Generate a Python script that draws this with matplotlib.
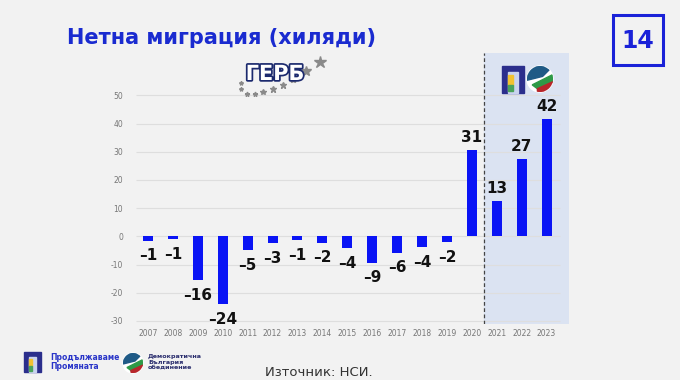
import matplotlib.pyplot as plt
import matplotlib.patches as mpatches
import matplotlib.transforms as mtransforms
import matplotlib.patheffects as pe
import numpy as np

plt.rcParams['axes.unicode_minus'] = False

years = ['2007', '2008', '2009', '2010', '2011', '2012', '2013', '2014', '2015',
         '2016', '2017', '2018', '2019', '2020', '2021', '2022', '2023']
values = [-1.5, -1.0, -15.5, -24.1, -5.0, -2.5, -1.2, -2.2, -4.3,
          -9.3, -5.8, -3.8, -2.0, 30.6, 12.6, 27.3, 41.5]
labels = ['–1', '–1', '–16', '–24', '–5', '–3', '–1', '–2', '–4',
          '–9', '–6', '–4', '–2', '31', '13', '27', '42']
yticks = [-30, -20, -10, 0, 10, 20, 30, 40, 50]

BLUE = '#0a14f5'
TITLE_BLUE = '#1a2bd0'
BG = '#f2f2f2'

fig = plt.figure(figsize=(6.8, 3.8), dpi=100, facecolor=BG)
# pixel coordinates, origin top-left
px = mtransforms.Affine2D().scale(1 / 100, -1 / 100).translate(0, 3.8) + fig.dpi_scale_trans

ax = fig.add_axes([135.5 / 680, 1 - 323.8 / 380, 433.5 / 680, (323.8 - 53) / 380])
ax.set_facecolor(BG)
x = np.arange(len(years))
ax.set_xlim(-0.5, 16.9)
ax.set_ylim(-31, 65)

ax.axvspan(13.5, 16.9, color='#dbe3f2', zorder=0)
ax.axvline(13.5, color='#444444', lw=0.9, ls=(0, (3, 2)), zorder=1)
ax.hlines(yticks, -0.5, 16.55, color='#dedede', lw=0.8, zorder=0.5)

ax.bar(x, values, width=0.4, color=BLUE, zorder=2)
for xi, v, lab in zip(x, values, labels):
    off = 9 if v > 0 else -11
    ax.annotate(lab, (xi, v), xytext=(0, off), textcoords='offset points',
                ha='center', va='center', fontsize=11, fontweight='semibold',
                color='#111111')

for s in ax.spines.values():
    s.set_visible(False)
ax.set_xticks(x)
ax.set_xticklabels(years)
ax.set_yticks(yticks)
ax.tick_params(length=0, labelsize=5.5, labelcolor='#777777')
ax.tick_params(axis='x', pad=4)
ax.tick_params(axis='y', pad=9)

# title
fig.text(67, 38, 'Нетна миграция (хиляди)', transform=px, fontsize=15,
         fontweight='bold', color=TITLE_BLUE, va='center', ha='left')

# page number box
fig.patches.append(mpatches.Rectangle((613, 15), 50, 50, transform=px, fill=False,
                                      ec='#1a22d8', lw=2.2))
fig.text(638, 41, '14', transform=px, fontsize=17, fontweight='bold',
         color='#1a22d8', ha='center', va='center')

# ГЕРБ logo
fig.text(275, 74, 'ГЕРБ', transform=px, fontsize=15, fontweight='heavy',
         color='white', ha='center', va='center',
         path_effects=[pe.withStroke(linewidth=2.5, foreground='#1c2a6e')])
star_x = [241, 241, 247, 255, 263, 273, 283, 293, 306, 320]
star_y = [83, 89, 94, 94, 92, 89, 85, 79, 71, 62]
star_s = [3, 3, 3.5, 3.5, 4, 4.5, 5, 6, 7, 9]
for sx, sy, ss in zip(star_x, star_y, star_s):
    fig.lines.append(plt.Line2D([sx], [sy], transform=px, marker='*', ms=ss,
                                color='#8a8a8a', mec='#8a8a8a', lw=0))


def pp_logo(x0, y0, w, h):
    t = w * 0.28
    fig.patches.append(mpatches.Rectangle((x0, y0), w, h, transform=px, color='#2b2e8c'))
    fig.patches.append(mpatches.Rectangle((x0 + t, y0 + t), w - 2 * t, h - t,
                                          transform=px, color='#c9d3ef'))
    fig.patches.append(mpatches.Rectangle((x0 + t, y0 + t * 1.5), (w - 2 * t) * 0.45, h * 0.35,
                                          transform=px, color='#f2c230'))
    fig.patches.append(mpatches.Rectangle((x0 + t, y0 + t * 1.5 + h * 0.35), (w - 2 * t) * 0.45,
                                          h * 0.25, transform=px, color='#4aa35a'))


def db_logo(cx, cy, r):
    circ = mpatches.Circle((cx, cy), r, transform=px, color='white')
    fig.patches.append(circ)
    bands = [('#1f5a86', [(cx - r, cy - r), (cx + r, cy - r), (cx + r * 0.2, cy - r * 0.2),
                          (cx - r, cy + r * 0.1)]),
             ('#2e9a47', [(cx - r * 0.6, cy + r * 0.45), (cx + r, cy - r * 0.35),
                          (cx + r, cy + r * 0.2), (cx - r * 0.2, cy + r * 0.75)]),
             ('#b8262b', [(cx - r * 0.2, cy + r * 0.75), (cx + r, cy + r * 0.2),
                          (cx + r, cy + r), (cx - r * 0.2, cy + r)])]
    for col, pts in bands:
        poly = mpatches.Polygon(pts, transform=px, color=col)
        fig.patches.append(poly)
        poly.set_clip_path(circ)


pp_logo(502, 66, 22, 27)
db_logo(540, 79, 13)

# footer
pp_logo(24, 352, 17, 20)
fig.text(50, 362, 'Продължаваме\nПромяната', transform=px, fontsize=5.5,
         fontweight='bold', color='#2a35c8', va='center', ha='left', linespacing=1.1)
db_logo(133, 363, 10)
fig.text(148, 362, 'Демократична\nБългария\nобединение', transform=px, fontsize=4.6,
         fontweight='bold', color='#2b2e6e', va='center', ha='left', linespacing=1.1)
fig.text(265, 372, 'Източник: НСИ.', transform=px, fontsize=9.5, color='#333333',
         va='center', ha='left')

fig.savefig('out.png', dpi=100, facecolor=BG)
